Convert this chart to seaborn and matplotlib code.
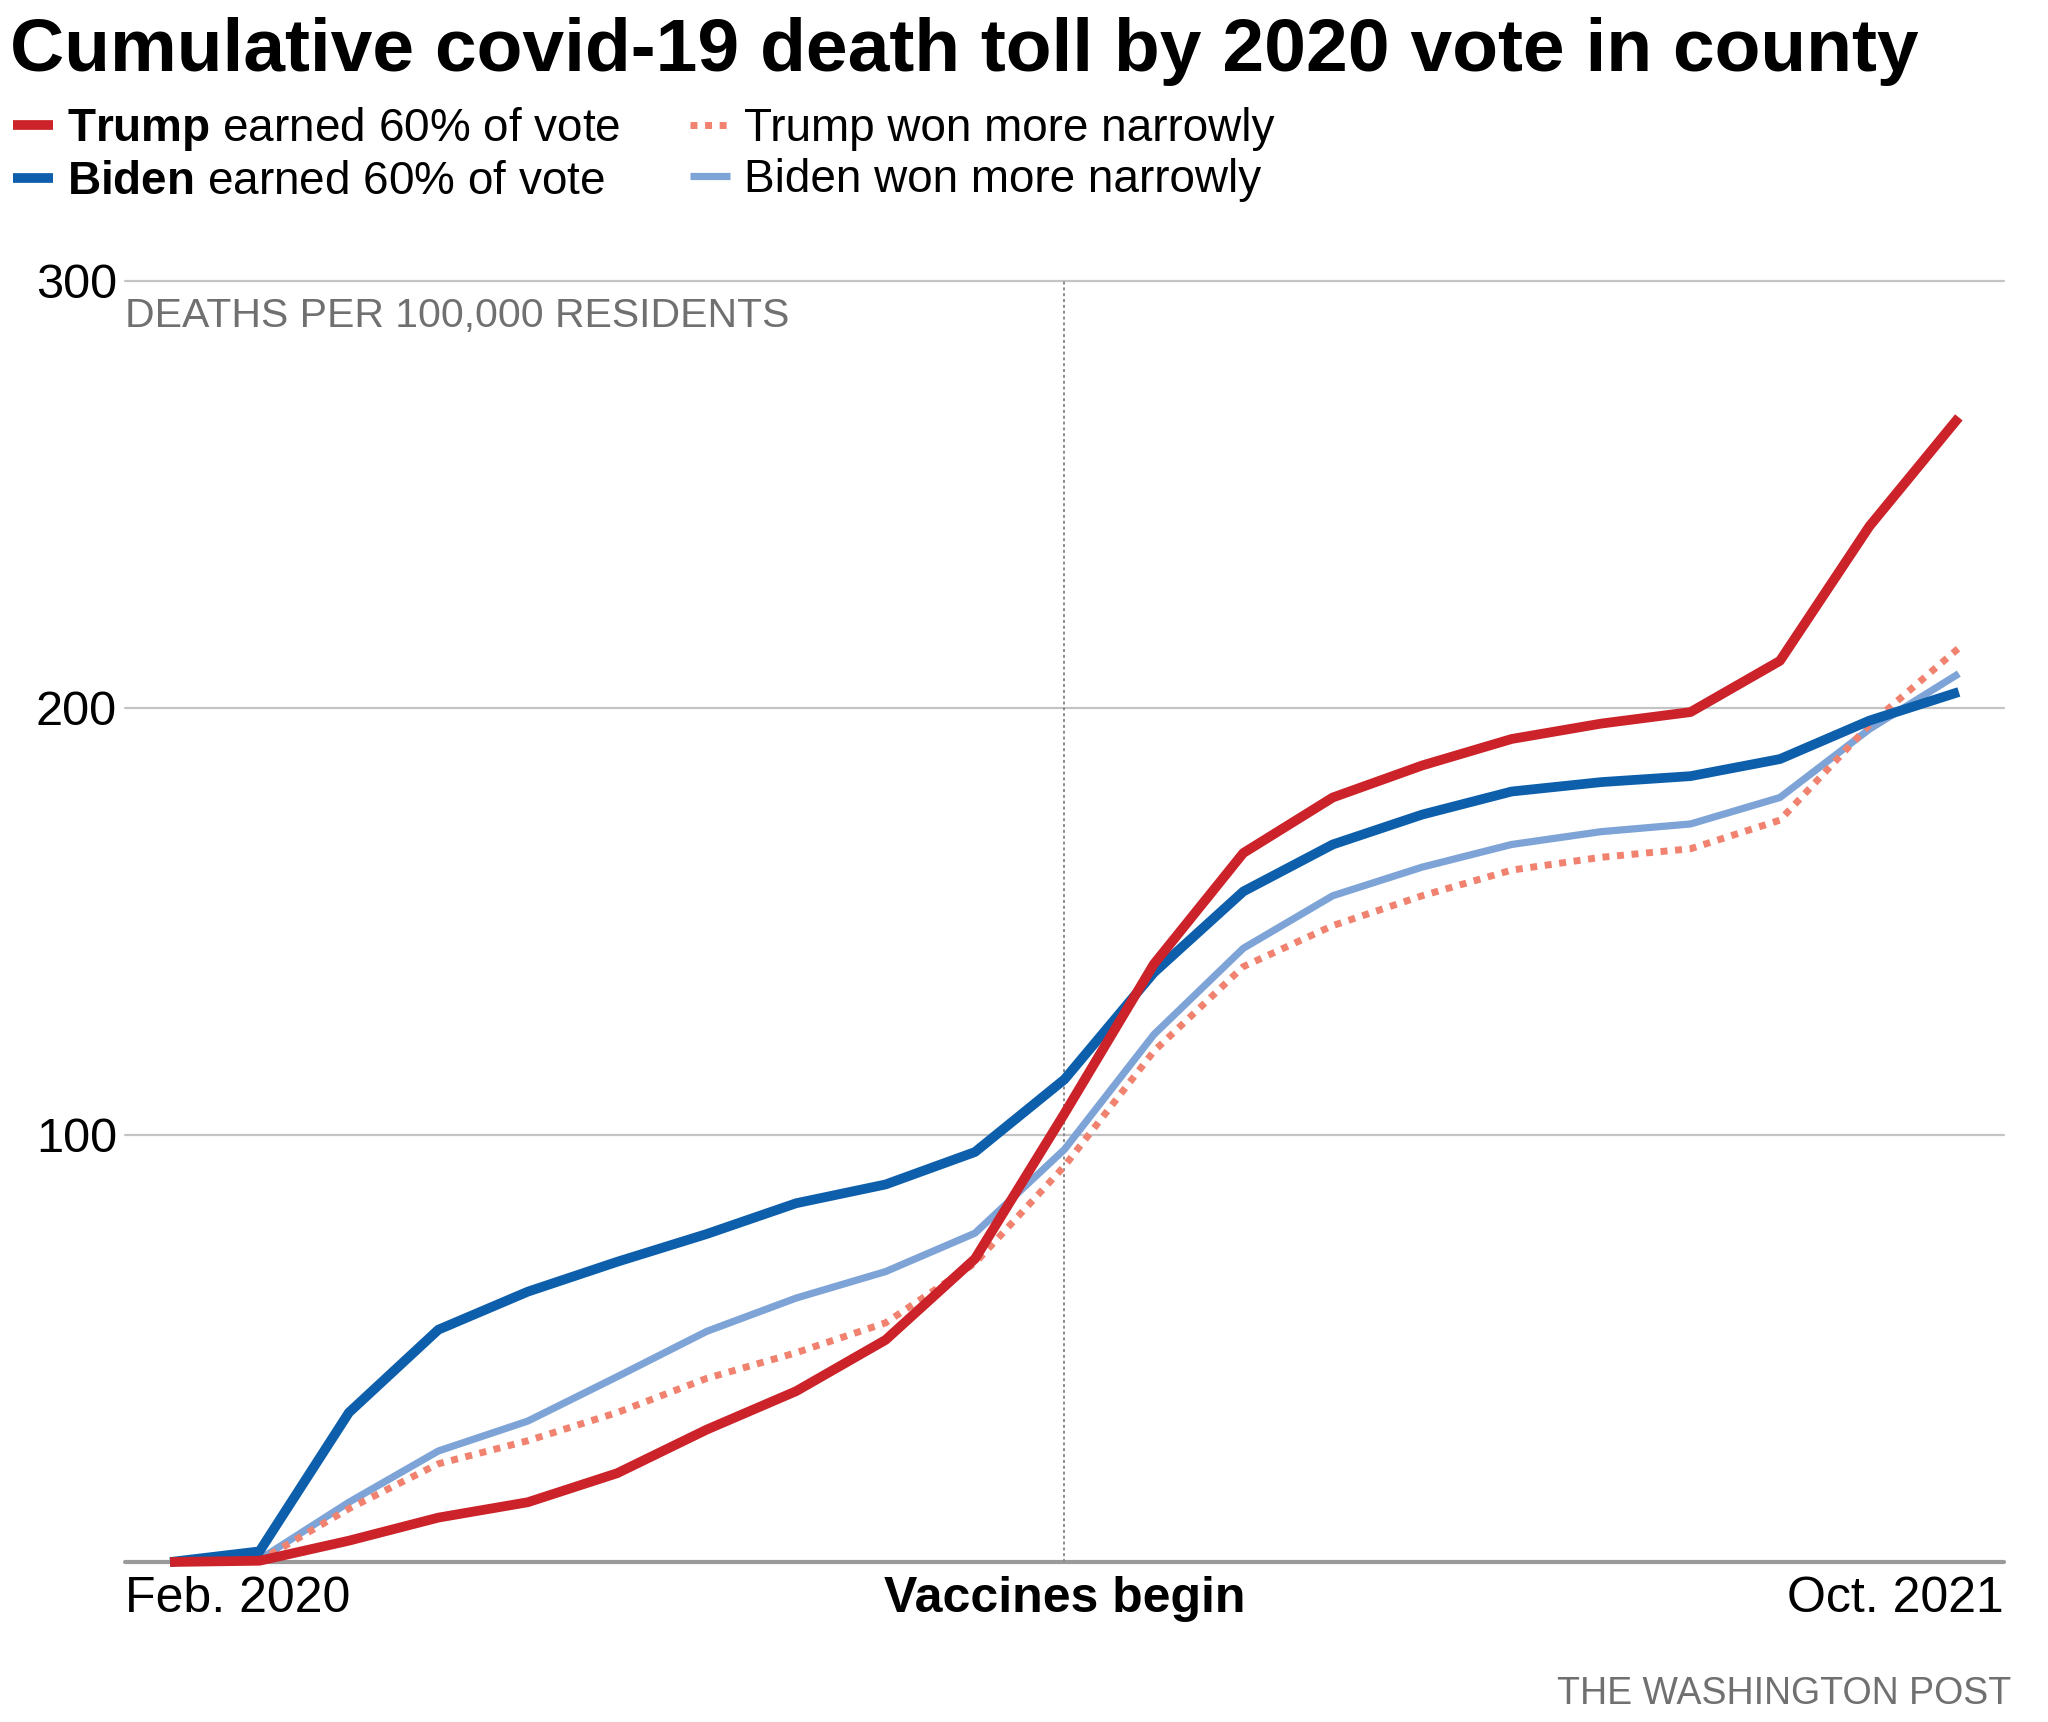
import numpy as np
import pandas as pd
import matplotlib.pyplot as plt
import seaborn as sns

months = ["Feb. 2020", "Mar. 2020", "Apr. 2020", "May 2020", "Jun. 2020", "Jul. 2020",
          "Aug. 2020", "Sep. 2020", "Oct. 2020", "Nov. 2020", "Dec. 2020", "Jan. 2021",
          "Feb. 2021", "Mar. 2021", "Apr. 2021", "May 2021", "Jun. 2021", "Jul. 2021",
          "Aug. 2021", "Sep. 2021", "Oct. 2021"]

trump_60 = [0, 0.3, 5, 10.4, 14, 20.8, 31, 40, 52, 71, 105, 140, 166, 179, 186.5,
            192.7, 196.3, 199, 211, 242.5, 268]
biden_60 = [0, 2.5, 35, 54.4, 63.3, 70.3, 76.8, 84, 88.4, 96, 113, 138, 157, 168, 175,
            180.4, 182.6, 184, 188, 197, 203.7]
trump_narrow = [0, 0.3, 12.5, 23, 28.4, 35, 43, 49, 56, 70, 92.7, 119.6, 139.4, 149, 156,
                162, 165, 167, 173.7, 196, 214]
biden_narrow = [0, 0.6, 14, 26, 33, 43.4, 54, 61.8, 68, 77, 96.6, 123.5, 143.7, 156, 162.7,
                168, 171, 172.8, 179, 195, 208]

vaccine_month = "Dec. 2020"
y_ticks = [100, 200, 300]

df = pd.DataFrame({
    "month": range(len(months)),
    "trump_60": trump_60,
    "biden_60": biden_60,
    "trump_narrow": trump_narrow,
    "biden_narrow": biden_narrow,
})

sns.set_theme(style="white")
plt.rcParams["font.family"] = ["Liberation Sans", "DejaVu Sans"]
plt.rcParams["mathtext.fontset"] = "custom"
plt.rcParams["mathtext.rm"] = "Liberation Sans"
plt.rcParams["mathtext.bf"] = "Liberation Sans:bold"
plt.rcParams["text.color"] = "black"
plt.rcParams["xtick.color"] = "black"
plt.rcParams["ytick.color"] = "black"

RED = "#cc2229"
BLUE = "#0d5fab"
SALMON = "#f0826f"
LIGHTBLUE = "#7ea4d7"

fig = plt.figure(figsize=(20.48, 17.22), dpi=100)
ax = fig.add_axes([0.0612, 0.0929, 0.9171, 0.7441])

# gridlines and baseline
for y in y_ticks:
    ax.axhline(y, color="#c4c4c4", linewidth=1.6, zorder=0, clip_on=False)
ax.axhline(0, color="#9a9a9a", linewidth=3, zorder=1, clip_on=False)
vx = months.index(vaccine_month)
ax.plot([vx, vx], [0, 300], color="#8a8a8a", linewidth=1.4, linestyle=(0, (1.5, 1.5)), zorder=1)

line_kw = dict(ax=ax, clip_on=False, solid_capstyle="butt", solid_joinstyle="round")
sns.lineplot(data=df, x="month", y="biden_narrow", color=LIGHTBLUE, linewidth=5.2, zorder=3, **line_kw)
sns.lineplot(data=df, x="month", y="trump_narrow", color=SALMON, linewidth=5.0,
             linestyle=(0, (1, 1.1)), dash_capstyle="butt", zorder=4, **line_kw)
sns.lineplot(data=df, x="month", y="biden_60", color=BLUE, linewidth=7, zorder=5, **line_kw)
sns.lineplot(data=df, x="month", y="trump_60", color=RED, linewidth=7, zorder=6, **line_kw)

lines = ax.get_lines()
lb, sa, bl, rd = lines[-4], lines[-3], lines[-2], lines[-1]

ax.set_xlim(-0.5, len(months) - 0.5)
ax.set_ylim(0, 300)
sns.despine(ax=ax, left=True, bottom=True)
ax.set_xlabel("")
ax.set_ylabel("")

ax.set_yticks(y_ticks)
ax.set_yticklabels([str(v) for v in y_ticks], fontsize=35, color="black")
ax.tick_params(axis="y", length=0, pad=6)

ax.set_xticks([-0.5, vx, len(months) - 0.5])
ax.set_xticklabels([months[0], "Vaccines begin", months[-1]], fontsize=36, color="black")
ax.tick_params(axis="x", length=0, pad=10)
xl = ax.get_xticklabels()
xl[0].set_ha("left")
xl[1].set_fontweight("bold")
xl[2].set_ha("right")

ax.text(0, 0.9635, "DEATHS PER 100,000 RESIDENTS", transform=ax.transAxes,
        fontsize=29.5, color="#707070", ha="left", va="baseline")

fig.text(0.005, 0.959, "Cumulative covid-19 death toll by 2020 vote in county",
         fontsize=54, fontweight="bold", ha="left", va="baseline", color="black")

labels = [r"$\bf{Trump}$ earned 60% of vote", r"$\bf{Biden}$ earned 60% of vote",
          "Trump won more narrowly", "Biden won more narrowly"]
fig.legend([rd, bl, sa, lb], labels, loc="upper left", bbox_to_anchor=(0.0063, 0.939),
           ncol=2, frameon=False, fontsize=33, handlelength=0.88, handletextpad=0.31,
           columnspacing=1.5, labelspacing=0.15, borderpad=0, borderaxespad=0)

fig.text(0.982, 0.016, "THE WASHINGTON POST", fontsize=27, color="#707070",
         ha="right", va="center")

fig.savefig("out.png", dpi=100)
